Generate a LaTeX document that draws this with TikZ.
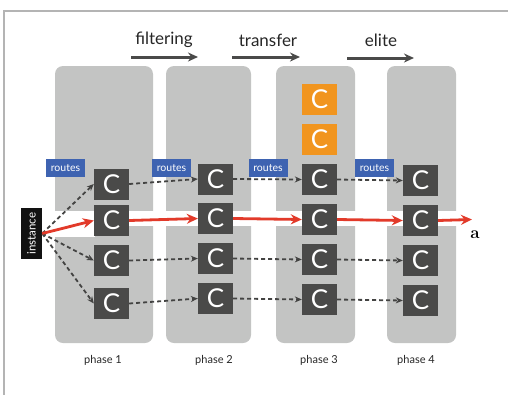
\documentclass[tikz,border=0pt]{standalone}
\usepackage{fontspec}
\setsansfont{Lato}
\usetikzlibrary{arrows.meta}

\definecolor{panelgrey}{HTML}{C3C4C3}
\definecolor{boxgrey}{HTML}{4A4A49}
\definecolor{routeblue}{HTML}{3E63B1}
\definecolor{bestorange}{HTML}{F1951F}
\definecolor{pathred}{HTML}{E23A2A}
\definecolor{framegrey}{HTML}{B4B4B4}

\tikzset{
	cand/.style={fill=boxgrey, text=white, minimum width=35pt, minimum height=31pt, inner sep=0pt, font=\sffamily\fontsize{26}{26}\selectfont},
	elitecand/.style={cand, fill=bestorange},
	routes/.style={fill=routeblue, text=white, minimum width=39pt, minimum height=18pt, inner sep=0pt, font=\sffamily\fontsize{10.5}{10.5}\selectfont},
	panel/.style={fill=panelgrey, rounded corners=8pt},
	passon/.style={dashed, dash pattern=on 4pt off 3pt, line width=1.8pt, draw=boxgrey!90!black, -{Stealth[length=7pt, width=6pt]}},
	bestpath/.style={line width=2.8pt, draw=pathred, -{Stealth[length=11pt, width=10pt]}},
	steparrow/.style={line width=3pt, draw=boxgrey, -{Stealth[length=10pt, width=9pt]}},
	heading/.style={font=\sffamily\fontsize{17}{17}\selectfont, text=black!85},
	phaselabel/.style={font=\sffamily\fontsize{11}{11}\selectfont, text=black!85}
}

\begin{document}
\begin{tikzpicture}[x=1pt, y=-1pt]

	\useasboundingbox (0,0) rectangle (508,394);
	
	%outer frame, cut off at the right and bottom
	\draw[framegrey, line width=2pt] (4,396) -- (4,11) -- (510,11);
	
	%the four phases as grey columns
	\fill[panel] (55,66) rectangle (153,343);
	\fill[panel] (166,66) rectangle (251,343);
	\fill[panel] (276,66) rectangle (355,343);
	\fill[panel] (387,66) rectangle (456,343);
	
	%white gap along the red path
	\fill[white] (50,211) rectangle (462,226);
	\fill[white] (55,211) rectangle (95,237);
	
	%headings with their arrows
	\node[heading] (filt) at (164,40) {filtering};
	\node[heading] (trans) at (268,40) {transfer};
	\node[heading] (elit) at (381,40) {elite};
	\coordinate (f1) at (131,57);
	\coordinate (f2) at (198,57);
	\coordinate (t1) at (232,57);
	\coordinate (t2) at (300,57);
	\coordinate (e1) at (347,58);
	\coordinate (e2) at (414,58);
	\draw[steparrow] (f1) -- (f2);
	\draw[steparrow] (t1) -- (t2);
	\draw[steparrow] (e1) -- (e2);
	
	%candidates, phase 1
	\node[cand] (c11) at (111.5,184) {C};
	\node[cand] (c12) at (111.5,220.5) {C};
	\node[cand] (c13) at (111.5,260.5) {C};
	\node[cand] (c14) at (111.5,303.5) {C};
	
	%candidates, phase 2
	\node[cand] (c21) at (215.5,179) {C};
	\node[cand] (c22) at (215.5,218.5) {C};
	\node[cand] (c23) at (215.5,258.5) {C};
	\node[cand] (c24) at (215.5,298.5) {C};
	
	%candidates, phase 3 plus the two transferred ones
	\node[elitecand] (o1) at (319.5,99.5) {C};
	\node[elitecand] (o2) at (319.5,139.5) {C};
	\node[cand] (c31) at (319.5,179.5) {C};
	\node[cand] (c32) at (319.5,219.5) {C};
	\node[cand] (c33) at (319.5,259.5) {C};
	\node[cand] (c34) at (319.5,299.5) {C};
	
	%candidates, phase 4
	\node[cand] (c41) at (420.5,180.5) {C};
	\node[cand] (c42) at (420.5,220.5) {C};
	\node[cand] (c43) at (420.5,260.5) {C};
	\node[cand] (c44) at (420.5,300.5) {C};
	
	%routes tags
	\node[routes] (r1) at (65.5,168) {routes};
	\node[routes] (r2) at (171.5,168) {routes};
	\node[routes] (r3) at (268,168) {routes};
	\node[routes] (r4) at (374.5,168) {routes};
	
	%instance
	\node[fill=black!93, text=white, rotate=90, minimum width=51pt, minimum height=21pt, inner sep=0pt, font=\sffamily\fontsize{11.5}{11.5}\selectfont] (inst) at (31.5,233.5) {instance};
	
	%dashed hand-overs
	\draw[passon] (inst.south) -- (c11.west);
	\draw[passon] (inst.south) -- (c13.west);
	\draw[passon] (inst.south) -- (c14.west);
	\draw[passon] (c11.east) -- (c21.west);
	\draw[passon] (c13.east) -- (c23.west);
	\draw[passon] (c14.east) -- (c24.west);
	\draw[passon] (c21.east) -- (c31.west);
	\draw[passon] (c23.east) -- (c33.west);
	\draw[passon] (c24.east) -- (c34.west);
	\draw[passon] (c31.east) -- (c41.west);
	\draw[passon] (c33.east) -- (c43.west);
	\draw[passon] (c34.east) -- (c44.west);
	
	%best path
	\coordinate (aend) at (472,219.5);
	\draw[bestpath] (inst.south) -- (c12.west);
	\draw[bestpath] (c12.east) -- (c22.west);
	\draw[bestpath] (c22.east) -- (c32.west);
	\draw[bestpath] (c32.east) -- (c42.west);
	\draw[bestpath] (c42.east) -- (aend);
	\node[font=\bfseries\fontsize{17}{17}\selectfont] (alab) at (475,235) {a};
	
	%phase labels
	\node[phaselabel] (p1) at (103,360) {phase 1};
	\node[phaselabel] (p2) at (214,360) {phase 2};
	\node[phaselabel] (p3) at (319,360) {phase 3};
	\node[phaselabel] (p4) at (416,360) {phase 4};

\end{tikzpicture}
\end{document}
